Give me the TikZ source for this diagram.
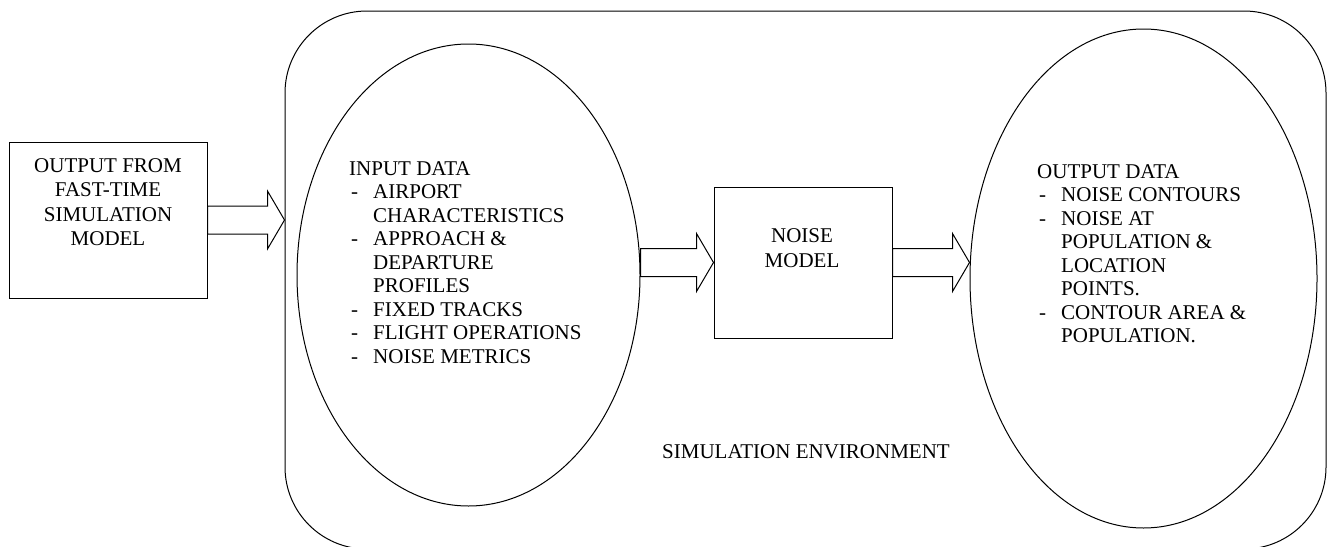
\documentclass[tikz,border=0pt]{standalone}
\usepackage{fontspec}
\setmainfont{Liberation Serif}
\newfontfamily\tnr{Liberation Serif}
\usetikzlibrary{calc,positioning,shapes.geometric}

\newcommand{\itm}{\makebox[24pt][l]{\hspace{2pt}-}}
\newcommand{\ind}{\hspace*{24pt}}

\tikzset{
	block/.style={draw, line width=1pt, rectangle, inner sep=0pt},
	dataoval/.style={draw, line width=1pt, ellipse, inner sep=0pt},
	txt/.style={inner sep=0pt, font=\tnr\fontsize{21}{#1}\selectfont},
	txt/.default=23.5,
	fatarrow/.style={line width=1pt, to path={let \p1=(\tikztostart), \p2=(\tikztotarget) in
		(\x1,\y1+14pt) -- (\x2-17pt,\y1+14pt) -- (\x2-17pt,\y1+29pt) -- (\x2,\y1)
		-- (\x2-17pt,\y1-29pt) -- (\x2-17pt,\y1-14pt) -- (\x1,\y1-14pt) -- cycle}}
}

\begin{document}
\begin{tikzpicture}[x=1pt, y=-1pt]
		\useasboundingbox (0,0) rectangle (1327,546);
		% simulation environment
		\node[block, rounded corners=82pt, minimum width=1041pt, minimum height=538pt] (env) at (805.5,280) {};
		\node[txt] (envtxt) at (806,452) {SIMULATION ENVIRONMENT};
		% boxes and ovals
		\node[block, minimum width=198pt, minimum height=156pt] (sim) at (108,220) {};
		\node[txt=24.5, align=center, anchor=north] (simtxt) at (108,158) {OUTPUT FROM\\FAST-TIME\\SIMULATION\\MODEL};
		\node[dataoval, minimum width=343pt, minimum height=462pt] (inp) at (468.5,275) {};
		\node[txt, align=left, anchor=north west] (inptxt) at (349,161) {INPUT DATA\\
			\itm AIRPORT\\ \ind CHARACTERISTICS\\
			\itm APPROACH \&\\ \ind DEPARTURE\\ \ind PROFILES\\
			\itm FIXED TRACKS\\
			\itm FLIGHT OPERATIONS\\
			\itm NOISE METRICS};
		\node[block, minimum width=178pt, minimum height=151pt] (noise) at (803,262.5) {};
		\node[txt=25, align=center, anchor=north] (noisetxt) at (802,228) {NOISE\\MODEL};
		\node[dataoval, minimum width=347pt, minimum height=499pt] (outp) at (1143.5,278.5) {};
		\node[txt, align=left, anchor=north west] (outptxt) at (1037,164) {OUTPUT DATA\\
			\itm NOISE CONTOURS\\
			\itm NOISE AT\\ \ind POPULATION \&\\ \ind LOCATION\\ \ind POINTS.\\
			\itm CONTOUR AREA \&\\ \ind POPULATION.};
		% block arrows
		\draw[fatarrow] (sim.east) to (env.west |- sim.east);
		\draw[fatarrow] (inp.east |- noise.west) to (noise.west);
		\draw[fatarrow] (noise.east) to (outp.west |- noise.east);
\end{tikzpicture}
\end{document}
